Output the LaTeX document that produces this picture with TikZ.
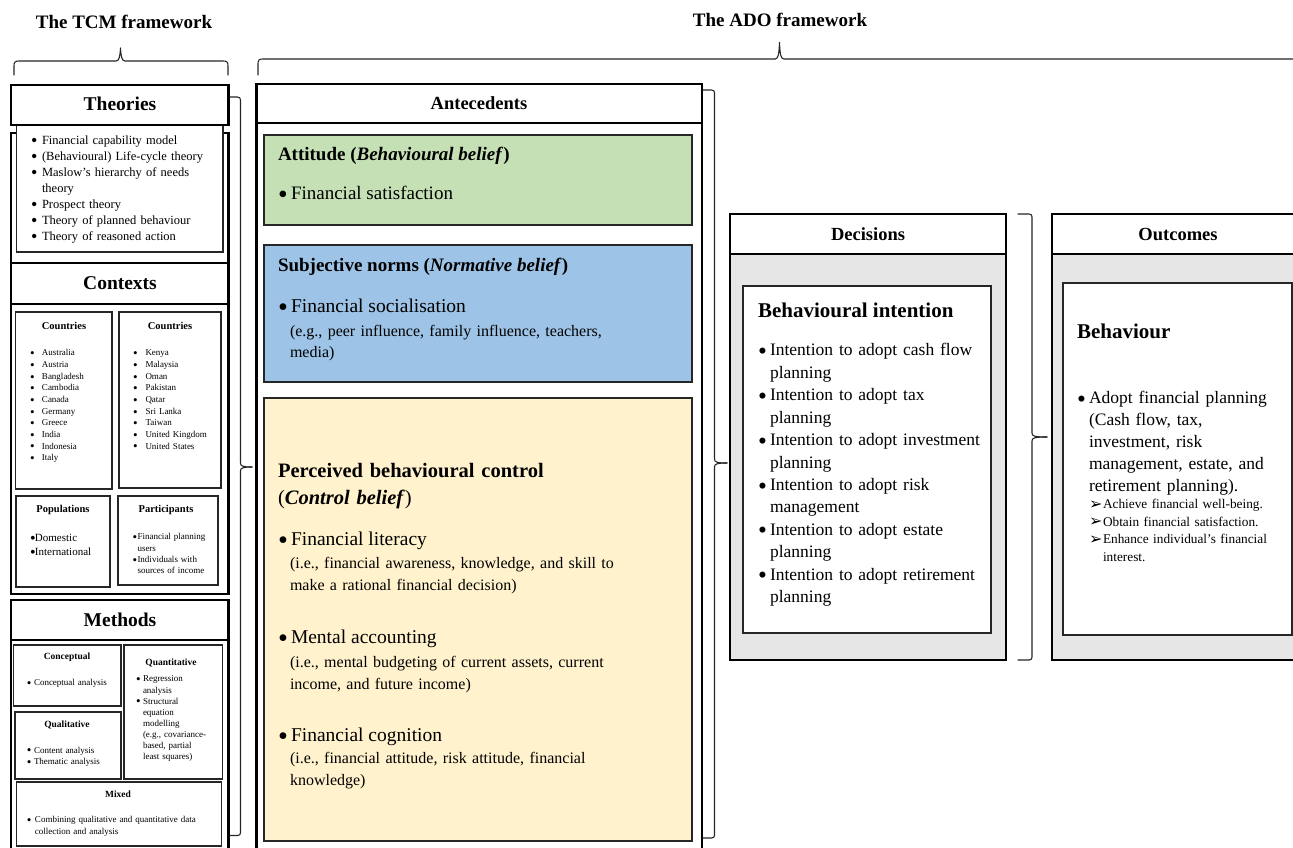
\documentclass[tikz,border=0pt]{standalone}
\usepackage{fontspec}
\setmainfont{Liberation Serif}
\newfontfamily\dejavu{DejaVu Sans}
\definecolor{attgreen}{HTML}{C5E0B4}
\definecolor{subblue}{HTML}{9DC3E6}
\definecolor{pbcyellow}{HTML}{FFF2CC}
\definecolor{boxgrey}{HTML}{E7E6E6}
\newcommand\bx[6]{\node[#2, anchor=north west, minimum width={(#5)-(#3)}, minimum height={(#6)-(#4)}] (#1) at (#3,#4) {};}
\newcommand\bdot{\raisebox{-0.2em}{\scalebox{1.45}{\textbullet}}}
\newcommand\bul[2]{\lineskip=0pt\lineskiplimit=0pt\noindent\strut\makebox[#1][l]{\bdot}\parbox[t]{\dimexpr\hsize-#1\relax}{\raggedright\strut #2\strut}\par}
\newcommand\arr[2]{\lineskip=0pt\lineskiplimit=0pt\noindent\strut\makebox[#1][l]{\raisebox{-0.05em}{\dejavu\fontsize{16}{16}\selectfont ➢}}\parbox[t]{\dimexpr\hsize-#1\relax}{\raggedright\strut #2\strut}\par}
\newcommand\rbr[6]{%
  \draw[brk] (#1,#2) -- ({#3-3},#2) .. controls ({#3-1},#2) and (#3,{#2+1}) .. (#3,{#2+3}) -- (#3,{#5-4}) .. controls (#3,{#5-1}) and ({#3+2},#5) .. (#6,#5);
  \draw[brk] (#1,#4) -- ({#3-3},#4) .. controls ({#3-1},#4) and (#3,{#4-1}) .. (#3,{#4-3}) -- (#3,{#5+4}) .. controls (#3,{#5+1}) and ({#3+2},#5) .. (#6,#5);}
\tikzset{
  thickbox/.style={draw=black, line width=2.6pt, inner sep=0pt, outer sep=0pt},
  thinbox/.style={draw=black!85, line width=1.2pt, inner sep=0pt, outer sep=0pt},
  txt/.style={inner sep=0pt, outer sep=0pt, anchor=north west, align=left},
  one/.style={inner sep=0pt, outer sep=0pt, anchor=base west},
  hd/.style={inner sep=0pt, outer sep=0pt, font=\bfseries\fontsize{#1}{#1}\selectfont},
  brk/.style={draw=black!85, line width=1.1pt, line join=round, line cap=round}
}
\begin{document}
\begin{tikzpicture}[x=1pt,y=-1pt]
\useasboundingbox (0,0) rectangle (1293,847);
\fill[white] (0,0) rectangle (1293,847);

% ---------- titles and braces ----------
\node[hd=19] (tcmT) at (124,22) {The TCM framework};
\node[hd=19] (adoT) at (780,20) {The ADO framework};
\draw[brk] (14,75) -- (14,66) .. controls (14,62) and (15,61) .. (19,61) -- (116,61) .. controls (119,61) and (120,57) .. (120.5,48) .. controls (121,57) and (122,61) .. (125,61) -- (223,61) .. controls (227,61) and (228,62) .. (228,66) -- (228,75);
\draw[brk] (258,75) -- (258,64) .. controls (258,60) and (259,59) .. (263,59) -- (775,59) .. controls (778,59) and (779,55) .. (779.5,42.5) .. controls (780,55) and (781,59) .. (784,59) -- (1300,59);

% ---------- TCM column ----------
\bx{theoB}{thickbox}{11}{133}{228.5}{263}
\bx{theoL}{thinbox, fill=white}{16.5}{125}{223}{252}
\bx{theoH}{thickbox, fill=white}{11}{85}{228.5}{125}
\node[hd=19.5] (theoN) at (120,104) {Theories};
\node[txt, text width=190pt, font=\fontsize{12.5}{16}\selectfont] (theoT) at (31,132.8) {%
\bul{11pt}{Financial capability model}\bul{11pt}{(Behavioural) Life-cycle theory}\bul{11pt}{Maslow’s hierarchy of needs\\theory}\bul{11pt}{Prospect theory}\bul{11pt}{Theory of planned behaviour}\bul{11pt}{Theory of reasoned action}};

\bx{ctxB}{thickbox}{11}{263}{228.5}{594}
\bx{ctxH}{thickbox}{11}{263}{228.5}{304}
\node[hd=19.5] (ctxN) at (120,283) {Contexts};
\bx{cA}{thinbox}{15.5}{312}{112}{489}
\bx{cB}{thinbox}{119}{312}{221}{488}
\bx{cC}{thinbox}{16}{496}{110}{587}
\bx{cD}{thinbox}{118}{496}{218}{585}
\node[hd=10.5] (cAN) at (64,326) {Countries};
\node[hd=10.5] (cBN) at (170,326) {Countries};
\node[txt, text width=75pt, font=\fontsize{9}{11.65}\selectfont] (cAT) at (30,347.8) {%
\bul{12pt}{Australia}\bul{12pt}{Austria}\bul{12pt}{Bangladesh}\bul{12pt}{Cambodia}\bul{12pt}{Canada}\bul{12pt}{Germany}\bul{12pt}{Greece}\bul{12pt}{India}\bul{12pt}{Indonesia}\bul{12pt}{Italy}};
\node[txt, text width=85pt, font=\fontsize{9}{11.65}\selectfont] (cBT) at (133,347.8) {%
\bul{12.5pt}{Kenya}\bul{12.5pt}{Malaysia}\bul{12.5pt}{Oman}\bul{12.5pt}{Pakistan}\bul{12.5pt}{Qatar}\bul{12.5pt}{Sri Lanka}\bul{12.5pt}{Taiwan}\bul{12.5pt}{United Kingdom}\bul{12.5pt}{United States}};
\node[hd=10.5] (cCN) at (63,510) {Populations};
\node[hd=10.5] (cDN) at (166,510) {Participants};
\node[txt, text width=78pt, font=\fontsize{11}{14}\selectfont] (cCT) at (30,531.8) {%
\bul{5pt}{Domestic}\bul{5pt}{International}};
\node[txt, text width=82pt, font=\fontsize{9}{11.3}\selectfont] (cDT) at (132.5,532) {%
\bul{5pt}{Financial planning\\users}\bul{5pt}{Individuals with\\sources of income}};

\bx{metB}{thickbox}{11}{600}{228.5}{870}
\bx{metH}{thickbox}{11}{600}{228.5}{640}
\node[hd=19.5] (metN) at (120,620) {Methods};
\bx{mA}{thinbox}{13.5}{645}{121}{706}
\bx{mB}{thinbox}{124}{645}{222.5}{779}
\bx{mC}{thinbox}{15}{712}{121}{779}
\bx{mD}{thinbox}{16.5}{782}{221.5}{846}
\node[hd=9.5] (mAN) at (67,657) {Conceptual};
\node[hd=9.5] (mBN) at (171,663) {Quantitative};
\node[hd=9.5] (mCN) at (67,725) {Qualitative};
\node[hd=9.5] (mDN) at (118,794) {Mixed};
\node[txt, text width=95pt, font=\fontsize{9}{11.3}\selectfont] (mAT) at (27,678) {%
\bul{7pt}{Conceptual analysis}};
\node[txt, text width=82pt, font=\fontsize{9}{11.1}\selectfont] (mBT) at (136,674.2) {%
\bul{7pt}{Regression\\analysis}\bul{7pt}{Structural\\equation\\modelling\\(e.g., covariance-\\based, partial\\least squares)}};
\node[txt, text width=95pt, font=\fontsize{9}{11.5}\selectfont] (mCT) at (27,745) {%
\bul{7pt}{Content analysis}\bul{7pt}{Thematic analysis}};
\node[txt, text width=192pt, font=\fontsize{9}{11.3}\selectfont] (mDT) at (27,815) {%
\bul{8pt}{Combining qualitative and quantitative data\\collection and analysis}};

\rbr{230}{97}{240.5}{835.5}{467}{252}

% ---------- Antecedents ----------
\bx{antB}{thickbox}{256.5}{84}{702}{870}
\bx{antH}{thickbox}{256.5}{84}{702}{123}
\node[hd=18.5] (antN) at (479,103) {Antecedents};
\bx{att}{thinbox, fill=attgreen}{264}{135}{692}{225}
\bx{sub}{thinbox, fill=subblue}{264}{245}{692}{382}
\bx{pbc}{thinbox, fill=pbcyellow}{264}{398}{692}{841}

\node[one, font=\bfseries\fontsize{19}{23}\selectfont] (attN) at (278,160.3) {Attitude (\textit{Behavioural belief})};
\node[one, font=\fontsize{19}{23}\selectfont] (attT) at (278,199.3) {\makebox[13pt][l]{\bdot}Financial satisfaction};

\node[one, font=\bfseries\fontsize{19}{23}\selectfont] (subN) at (278,271.3) {Subjective norms (\textit{Normative belief})};
\node[one, font=\fontsize{19.5}{23}\selectfont] (subT) at (278,312.3) {\makebox[13pt][l]{\bdot}Financial socialisation};
\node[txt, text width=395pt, font=\fontsize{16}{21.5}\selectfont] (subE) at (290,321.3) {\strut(e.g., peer influence, family influence, teachers,\\media)};

\node[txt, text width=400pt, font=\fontsize{20.5}{27}\selectfont] (pbcN) at (278,458.9) {\strut\textbf{Perceived behavioural control}\\(\textbf{\textit{Control belief}})};
\node[one, font=\fontsize{19.5}{23}\selectfont] (pbc1) at (278,545.5) {\makebox[13pt][l]{\bdot}Financial literacy};
\node[txt, text width=395pt, font=\fontsize{16}{22}\selectfont] (pbc1e) at (290,552.9) {\strut(i.e., financial awareness, knowledge, and skill to\\make a rational financial decision)};
\node[one, font=\fontsize{19.5}{23}\selectfont] (pbc2) at (278,643.5) {\makebox[13pt][l]{\bdot}Mental accounting};
\node[txt, text width=395pt, font=\fontsize{16}{22}\selectfont] (pbc2e) at (290,651.9) {\strut(i.e., mental budgeting of current assets, current\\income, and future income)};
\node[one, font=\fontsize{19.5}{23}\selectfont] (pbc3) at (278,741.5) {\makebox[13pt][l]{\bdot}Financial cognition};
\node[txt, text width=395pt, font=\fontsize{16}{22}\selectfont] (pbc3e) at (290,747.9) {\strut(i.e., financial attitude, risk attitude, financial\\knowledge)};

\rbr{703}{90}{714.5}{838}{463}{727}

% ---------- Decisions ----------
\bx{decB}{thickbox, fill=boxgrey}{730}{214}{1006}{660}
\bx{decH}{thickbox, fill=white}{730}{214}{1006}{254}
\node[hd=18.5] (decN) at (868,234) {Decisions};
\bx{decI}{thinbox, fill=white}{743}{286}{991}{633}
\node[one, font=\bfseries\fontsize{21}{25}\selectfont] (decT) at (758,317) {Behavioural intention};
\node[txt, text width=228pt, font=\fontsize{17.5}{22.45}\selectfont] (decL) at (758,340.1) {%
\bul{12pt}{Intention to adopt cash flow\\planning}\bul{12pt}{Intention to adopt tax\\planning}\bul{12pt}{Intention to adopt investment\\planning}\bul{12pt}{Intention to adopt risk\\management}\bul{12pt}{Intention to adopt estate\\planning}\bul{12pt}{Intention to adopt retirement\\planning}};

\rbr{1018}{214}{1032}{660}{437}{1047}

% ---------- Outcomes ----------
\bx{outB}{thickbox, fill=boxgrey}{1052}{214}{1320}{660}
\bx{outH}{thickbox, fill=white}{1052}{214}{1320}{254}
\node[hd=18.5] (outN) at (1178,234) {Outcomes};
\bx{outI}{thinbox, fill=white}{1063}{283}{1292}{635}
\node[one, font=\bfseries\fontsize{21}{25}\selectfont] (outT) at (1077,338) {Behaviour};
\node[txt, text width=210pt, font=\fontsize{17.5}{22}\selectfont] (outL) at (1077,388.4) {%
\bul{12pt}{Adopt financial planning\\(Cash flow, tax,\\investment, risk\\management, estate, and\\retirement planning).}};
\node[txt, text width=200pt, font=\fontsize{13.3}{17.6}\selectfont] (outA) at (1089,496.1) {%
\arr{14pt}{Achieve financial well-being.}\arr{14pt}{Obtain financial satisfaction.}\arr{14pt}{Enhance individual’s financial\\interest.}};
\end{tikzpicture}
\end{document}
